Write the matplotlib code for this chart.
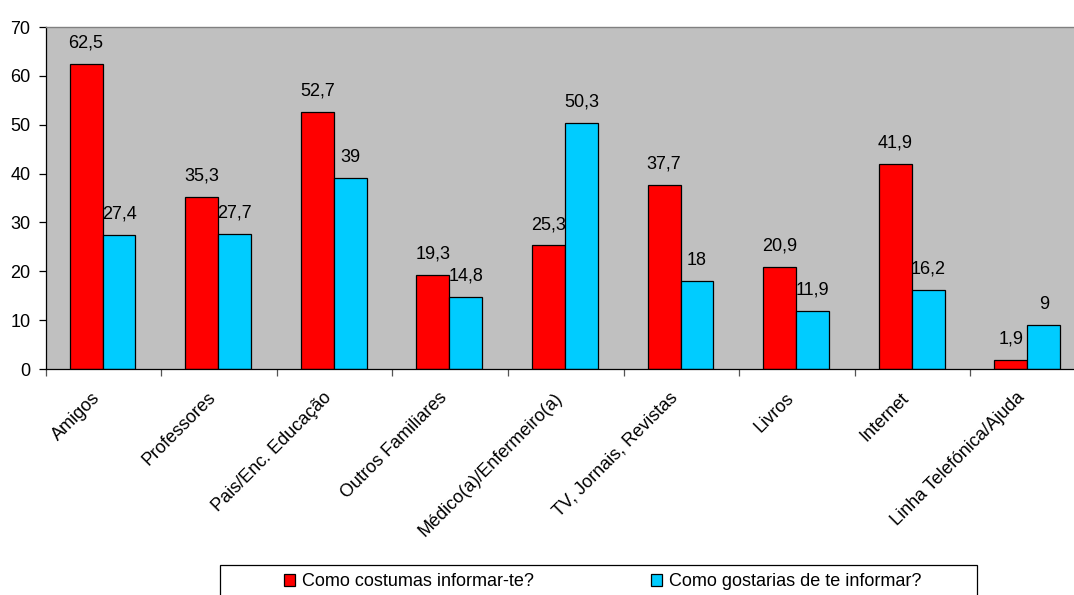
import matplotlib
matplotlib.use("Agg")
import matplotlib.pyplot as plt
import matplotlib.transforms as mtransforms
from matplotlib.patches import Rectangle, Patch
import numpy as np

categories = ["Amigos", "Professores", "Pais/Enc. Educação", "Outros Familiares",
              "Médico(a)/Enfermeiro(a)", "TV, Jornais, Revistas", "Livros",
              "Internet", "Linha Telefónica/Ajuda"]
costumas = [62.5, 35.3, 52.7, 19.3, 25.3, 37.7, 20.9, 41.9, 1.9]
gostarias = [27.4, 27.7, 39, 14.8, 50.3, 18, 11.9, 16.2, 9]
series_names = ["Como costumas informar-te?", "Como gostarias de te informar?"]
y_ticks = [0, 10, 20, 30, 40, 50, 60, 70]

plt.rcParams["font.family"] = ["Liberation Sans", "DejaVu Sans"]
FS = 13

W, H = 1074, 595
fig = plt.figure(figsize=(W / 100, H / 100), dpi=100)
ax = fig.add_axes([45.6 / W, 1 - 369 / H, (1086 - 45.6) / W, (369 - 27) / H])
ax.set_facecolor("#C0C0C0")

x = np.arange(len(categories))
bw = 0.285
red_bars = ax.bar(x - 0.15, costumas, bw, color="#FF0000", edgecolor="black", linewidth=0.9)
cyan_bars = ax.bar(x + 0.135, gostarias, bw, color="#00CCFF", edgecolor="black", linewidth=0.9)


def fmt(v):
    return f"{v:g}".replace(".", ",")


for bars, vals in ((red_bars, costumas), (cyan_bars, gostarias)):
    for b, v in zip(bars, vals):
        ax.annotate(fmt(v), (b.get_x() + b.get_width() / 2, v), xytext=(0, 15),
                    textcoords="offset points", ha="center", va="center", fontsize=FS)

ax.set_xlim(-0.5, 8.5)
ax.set_ylim(0, 70)
ax.set_yticks(y_ticks)
ax.set_yticklabels([str(t) for t in y_ticks], fontsize=FS)
ax.tick_params(axis="y", direction="out", length=5, width=0.9, pad=6, colors="black")

ax.set_xticks(x)
ax.set_xticklabels(categories, rotation=45, ha="right", va="center",
                   rotation_mode="anchor", fontsize=FS)
ax.tick_params(axis="x", which="major", length=0, pad=19)
shift = mtransforms.ScaledTranslation(-6 / 100, 0, fig.dpi_scale_trans)
for lbl in ax.get_xticklabels():
    lbl.set_transform(lbl.get_transform() + shift)
ax.set_xticks(np.arange(-0.5, 9, 1.0), minor=True)
ax.tick_params(axis="x", which="minor", direction="out", length=5, width=0.9, color="#555555")

for side in ("top", "right"):
    ax.spines[side].set_color("#808080")
    ax.spines[side].set_linewidth(1.0)
for side in ("left", "bottom"):
    ax.spines[side].set_color("black")
    ax.spines[side].set_linewidth(0.9)

# legend frame and entries
fig.patches.append(Rectangle((220 / W, -0.05), (977 - 220) / W, (1 - 565 / H) + 0.05,
                             transform=fig.transFigure, facecolor="white",
                             edgecolor="black", linewidth=0.9, zorder=1))
handles = [Patch(facecolor="#FF0000", edgecolor="black", linewidth=0.9),
           Patch(facecolor="#00CCFF", edgecolor="black", linewidth=0.9)]
fig.legend(handles, series_names, loc="center", bbox_to_anchor=(602.5 / W, 1 - 582 / H),
           ncol=2, frameon=False, fontsize=FS, handlelength=0.6, handleheight=0.6,
           handletextpad=0.39, columnspacing=6.5, borderpad=0)

fig.savefig("out.png", dpi=100)
